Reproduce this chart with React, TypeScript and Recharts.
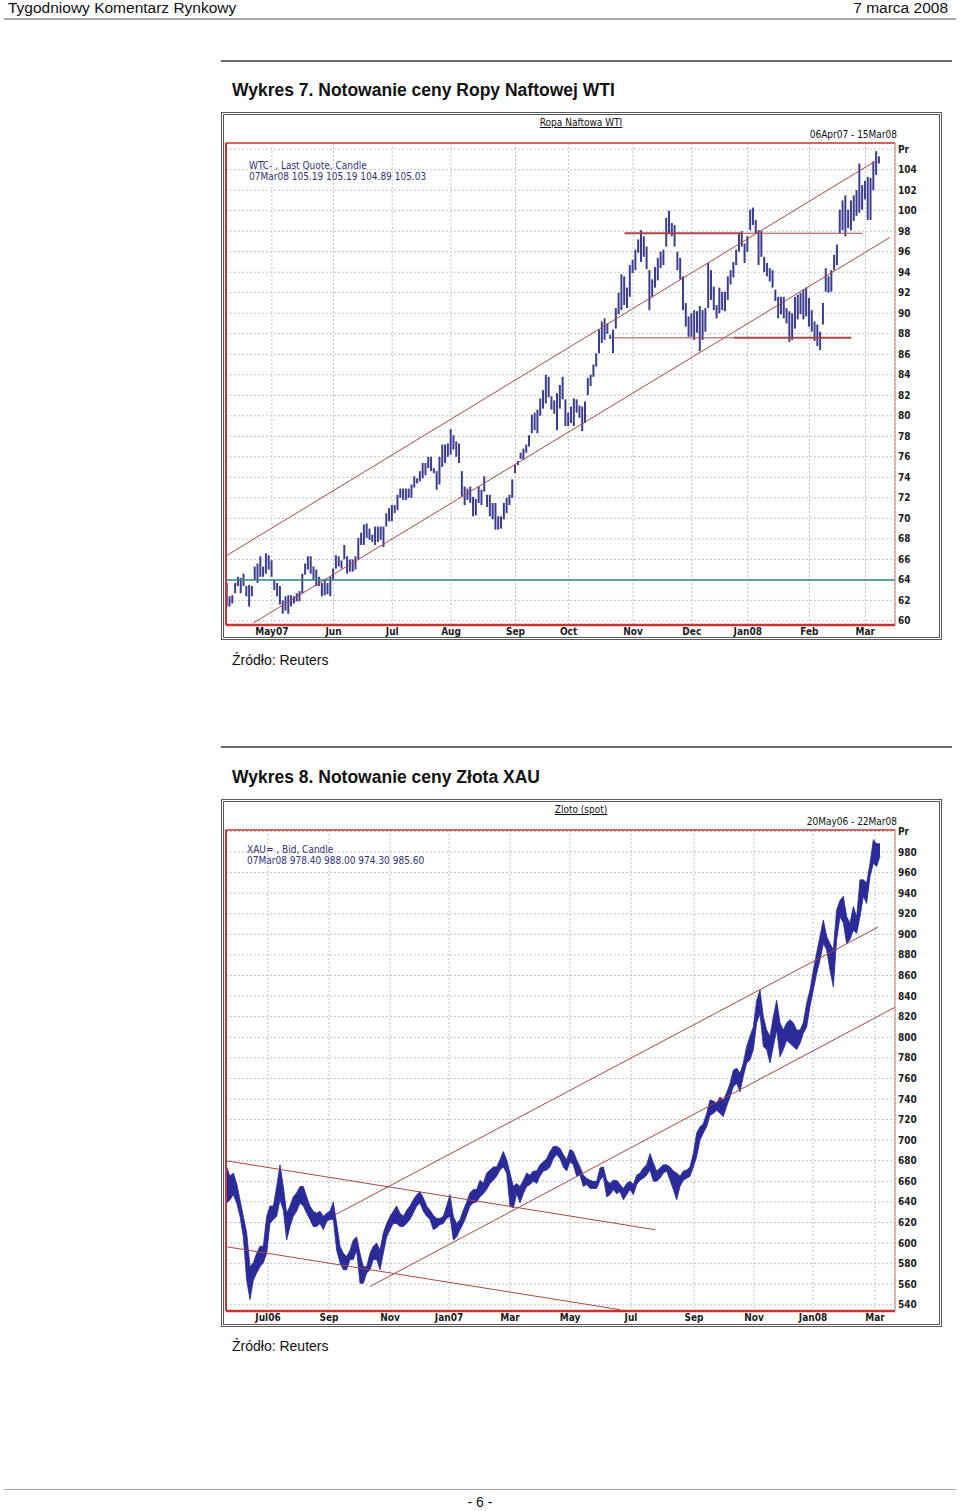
import React from 'react';
import { ComposedChart, Bar, Area, XAxis, YAxis, CartesianGrid, ReferenceLine } from 'recharts';

// Ropa WTI - dzienne świece (low / high), indeks = sesja od 9 kwietnia 2007
const wtiLow = [
  61.4, 61.4, 61.7, 62.7, 63.4, 62.7, 63.4, 62.4, 61.4, 62.4, 64.0, 63.7, 64.3, 64.3, 64.6, 65.0, 64.3, 63.0, 62.4, 61.6,
  60.7, 61.0, 60.7, 61.4, 61.7, 61.9, 61.9, 62.7, 64.5, 65.0, 64.6, 64.0, 63.4, 63.4, 62.4, 62.5, 62.6, 62.4, 64.0, 65.1,
  65.3, 65.1, 66.0, 64.6, 64.8, 64.8, 65.0, 66.0, 67.4, 67.4, 68.1, 67.9, 67.7, 67.4, 67.7, 67.9, 67.2, 69.2, 69.7, 69.7,
  70.5, 70.8, 72.0, 71.8, 71.8, 72.0, 72.0, 73.0, 73.4, 73.6, 73.9, 74.2, 74.9, 74.6, 74.4, 72.8, 73.3, 75.0, 75.4, 76.0,
  76.2, 76.7, 76.0, 75.4, 72.1, 71.3, 71.8, 71.5, 70.2, 70.3, 71.5, 71.3, 72.6, 71.1, 70.2, 69.9, 68.9, 68.9, 69.0, 69.9,
  70.5, 71.3, 72.0, 74.4, 75.2, 75.8, 75.7, 76.4, 77.0, 78.3, 78.6, 78.3, 80.0, 80.7, 81.2, 81.8, 80.6, 80.2, 78.6, 80.7,
  81.6, 79.0, 79.0, 79.3, 79.0, 80.3, 79.8, 78.5, 79.3, 82.0, 82.9, 83.8, 84.8, 86.1, 87.1, 87.4, 88.0, 87.5, 86.1, 88.5,
  89.9, 90.3, 90.8, 90.5, 91.6, 93.9, 94.2, 95.9, 95.0, 95.5, 94.3, 90.3, 91.6, 92.5, 93.2, 94.4, 94.7, 96.5, 97.8, 97.5,
  96.5, 94.2, 93.3, 90.3, 88.7, 87.7, 87.7, 87.4, 88.1, 86.3, 87.4, 88.2, 90.5, 91.3, 90.3, 89.5, 90.0, 90.3, 90.2, 91.3,
  92.8, 93.5, 94.7, 96.0, 96.5, 94.9, 96.0, 98.1, 98.6, 97.8, 94.7, 95.5, 94.0, 93.6, 93.1, 92.5, 91.2, 89.5, 89.9, 89.5,
  89.0, 87.2, 87.4, 88.5, 89.4, 89.9, 89.4, 89.7, 88.7, 88.2, 87.3, 86.8, 86.4, 88.9, 92.1, 92.0, 92.1, 94.2, 94.7, 97.8,
  98.1, 97.5, 98.3, 98.1, 99.0, 99.5, 99.8, 100.1, 101.1, 99.1, 99.1, 102.0, 103.5, 104.6,
];
const wtiHigh = [
  63.7, 62.4, 62.5, 63.7, 64.3, 64.2, 64.6, 63.4, 63.5, 63.4, 65.3, 65.6, 66.3, 65.3, 66.6, 66.4, 65.9, 64.0, 63.7, 63.4,
  62.0, 62.4, 62.5, 62.5, 62.4, 62.7, 62.9, 64.6, 65.6, 66.3, 66.3, 65.3, 65.0, 64.3, 63.7, 64.0, 63.7, 64.3, 65.1, 66.4,
  66.3, 65.9, 67.4, 66.3, 66.0, 66.0, 66.3, 68.1, 68.6, 69.4, 69.5, 69.0, 68.4, 69.2, 69.2, 69.2, 69.2, 70.5, 71.0, 71.3,
  71.3, 72.3, 72.9, 72.9, 72.9, 72.9, 73.3, 74.1, 73.9, 74.6, 75.4, 75.4, 76.0, 76.0, 74.9, 74.6, 76.0, 77.2, 77.2, 77.3,
  78.7, 78.1, 77.5, 77.3, 74.6, 73.1, 72.9, 73.1, 72.1, 71.9, 73.1, 72.8, 74.1, 72.3, 72.3, 71.5, 71.5, 70.2, 70.2, 71.5,
  72.0, 72.3, 73.8, 75.2, 75.6, 76.4, 76.8, 77.2, 78.1, 80.1, 80.3, 80.6, 81.7, 82.5, 84.0, 83.8, 81.9, 81.5, 82.2, 83.0,
  83.8, 81.6, 80.3, 80.9, 81.7, 81.6, 81.0, 80.9, 81.4, 83.7, 84.0, 85.0, 86.1, 88.4, 89.2, 89.5, 89.0, 87.9, 88.4, 90.5,
  92.0, 93.8, 93.6, 92.5, 94.7, 95.2, 96.2, 97.2, 98.1, 97.5, 96.5, 94.2, 93.3, 94.5, 95.4, 96.0, 96.2, 99.3, 100.0, 98.8,
  98.6, 96.0, 95.4, 93.6, 91.0, 89.7, 90.0, 90.3, 90.2, 90.7, 90.3, 90.5, 94.9, 94.2, 92.6, 90.8, 92.5, 92.1, 92.1, 93.6,
  94.2, 95.0, 96.2, 97.8, 98.0, 96.8, 97.5, 100.1, 100.3, 99.1, 98.1, 98.0, 95.5, 94.9, 94.4, 94.2, 92.3, 91.6, 91.6, 91.6,
  90.5, 90.2, 90.0, 91.6, 91.8, 92.0, 92.3, 92.5, 91.5, 90.3, 89.2, 88.9, 88.2, 91.0, 94.4, 93.6, 94.2, 95.7, 96.7, 100.1,
  101.0, 101.5, 100.1, 101.0, 101.5, 102.0, 104.6, 102.5, 102.9, 103.3, 103.2, 104.8, 105.8, 105.3,
];
const wtiMonthPos = [16, 38, 59, 80, 103, 122, 145, 166, 186, 208, 228];
const wtiMonthLabels = ['May07', 'Jun', 'Jul', 'Aug', 'Sep', 'Oct', 'Nov', 'Dec', 'Jan08', 'Feb', 'Mar'];
const wtiPriceTicks = [60, 62, 64, 66, 68, 70, 72, 74, 76, 78, 80, 82, 84, 86, 88, 90, 92, 94, 96, 98, 100, 102, 104, 106];
const wtiTrend = [
  { from: { x: 0, y: 66.4 }, to: { x: 231.4, y: 104.8 }, w: 1 },
  { from: { x: 9.4, y: 59.8 }, to: { x: 236.8, y: 97.4 }, w: 1 },
  { from: { x: 142, y: 97.8 }, to: { x: 184, y: 97.8 }, w: 2 },
  { from: { x: 184, y: 97.8 }, to: { x: 227, y: 97.8 }, w: 1 },
  { from: { x: 138, y: 87.6 }, to: { x: 181, y: 87.6 }, w: 1 },
  { from: { x: 181, y: 87.6 }, to: { x: 223, y: 87.6 }, w: 2 },
];

// Złoto XAU - zakres low / high co ok. 2 sesje od końca maja 2006
const goldLow = [
  639, 642, 647, 639, 626, 606, 564, 545, 564, 571, 577, 581, 590, 619, 623, 626, 642, 632, 603, 616,
  626, 631, 639, 636, 629, 623, 616, 616, 619, 613, 621, 623, 623, 593, 581, 574, 574, 584, 584, 593,
  561, 561, 571, 574, 584, 584, 574, 590, 606, 613, 619, 619, 616, 616, 619, 623, 629, 636, 639, 631,
  626, 623, 613, 615, 618, 619, 624, 626, 603, 606, 613, 619, 627, 636, 639, 640, 645, 648, 652, 658,
  661, 665, 671, 674, 668, 636, 634, 648, 639, 648, 655, 657, 660, 658, 665, 670, 671, 674, 682, 686,
  682, 674, 670, 679, 676, 665, 666, 655, 657, 653, 653, 653, 661, 665, 645, 647, 652, 648, 650, 642,
  647, 652, 647, 657, 661, 663, 666, 671, 660, 660, 663, 668, 670, 661, 652, 642, 655, 661, 663, 665,
  674, 684, 700, 707, 713, 724, 726, 729, 726, 723, 733, 742, 752, 755, 747, 762, 775, 778, 788, 814,
  823, 791, 788, 775, 791, 807, 781, 788, 797, 794, 791, 788, 794, 804, 810, 830, 846, 862, 875, 891,
  885, 865, 849, 895, 917, 911, 891, 895, 904, 901, 917, 937, 930, 956, 969, 966, 976,
];
const goldHigh = [
  674, 665, 668, 658, 642, 626, 610, 577, 581, 590, 597, 597, 626, 636, 636, 655, 676, 655, 629, 636,
  645, 649, 655, 655, 645, 636, 631, 629, 631, 626, 629, 631, 640, 619, 597, 590, 587, 593, 603, 606,
  590, 577, 577, 590, 597, 600, 593, 610, 619, 626, 631, 636, 629, 626, 632, 636, 642, 647, 650, 644,
  636, 632, 627, 624, 624, 626, 636, 647, 626, 619, 623, 632, 640, 649, 652, 652, 661, 658, 668, 671,
  674, 674, 681, 689, 681, 668, 655, 658, 655, 661, 668, 666, 670, 670, 676, 679, 682, 689, 694, 694,
  692, 686, 681, 691, 689, 681, 674, 666, 663, 661, 660, 660, 673, 674, 661, 658, 661, 661, 657, 653,
  658, 660, 657, 666, 668, 673, 676, 687, 678, 670, 673, 676, 676, 674, 670, 668, 665, 670, 671, 674,
  687, 707, 713, 716, 726, 739, 738, 736, 742, 739, 746, 755, 768, 770, 765, 775, 791, 801, 810, 836,
  846, 820, 807, 801, 820, 836, 814, 807, 814, 817, 814, 807, 807, 814, 833, 846, 865, 882, 898, 914,
  898, 891, 885, 924, 933, 937, 917, 911, 927, 917, 953, 953, 950, 969, 992, 988, 988,
];
const goldMonthPos = [12.4, 30.7, 49, 66.7, 85, 103, 121.3, 140.2, 158.2, 175.9, 194.5];
const goldMonthLabels = ['Jul06', 'Sep', 'Nov', 'Jan07', 'Mar', 'May', 'Jul', 'Sep', 'Nov', 'Jan08', 'Mar'];
const goldPriceTicks = [540, 560, 580, 600, 620, 640, 660, 680, 700, 720, 740, 760, 780, 800, 820, 840, 860, 880, 900, 920, 940, 960, 980, 1000];
const goldTrend = [
  { from: { x: -0.2, y: 680 }, to: { x: 128.5, y: 613 }, w: 1 },
  { from: { x: -0.2, y: 596.5 }, to: { x: 118, y: 535.3 }, w: 1 },
  { from: { x: 32.5, y: 627.4 }, to: { x: 195.4, y: 907 }, w: 1 },
  { from: { x: 43, y: 557.8 }, to: { x: 200.4, y: 829 }, w: 1 },
];

const NARROW = "'Liberation Sans Narrow', 'Arial Narrow', 'DejaVu Sans Condensed', sans-serif";
const RED = '#c83434';
const TREND = '#a84848';

type Seg = { from: { x: number; y: number }; to: { x: number; y: number }; w: number };

type PanelProps = {
  title: string;
  period: string;
  legend1: string;
  legend2: string;
  legendLeft: number;
  legendTop: number;
  rows: { day: number; range: number[] }[];
  xDomain: [number, number];
  yDomain: [number, number];
  monthPos: number[];
  monthLabels: string[];
  priceTicks: number[];
  color: string;
  band?: boolean;
  trend: Seg[];
  axisHeight: number;
  flat?: number;
};

function Txt({ x, cy, size, children, style }: { x?: number; cy: number; size: number; children: React.ReactNode; style?: React.CSSProperties }) {
  return (
    <div style={{ position: 'absolute', left: x, top: cy - size * 0.6, fontSize: size, lineHeight: `${size * 1.2}px`, whiteSpace: 'nowrap', ...style }}>
      {children}
    </div>
  );
}

function ReutersPanel(p: PanelProps) {
  const top = p.priceTicks[p.priceTicks.length - 1];
  return (
    <div style={{ position: 'relative', width: 715, height: 522 }}>
      <ComposedChart width={715} height={522} data={p.rows} margin={{ top: 28, right: 0, bottom: 0, left: 2 }}>
        <CartesianGrid stroke="#c2c2c2" strokeDasharray="2 2" />
        <XAxis
          dataKey="day"
          type="number"
          domain={p.xDomain}
          allowDataOverflow
          ticks={p.monthPos}
          interval={0}
          tickFormatter={(v) => p.monthLabels[p.monthPos.indexOf(v)] ?? ''}
          height={p.axisHeight}
          tickSize={0}
          tickMargin={3}
          axisLine={{ stroke: RED, strokeWidth: 2.5 }}
          tick={{ fontSize: 10, fontWeight: 700, fill: '#1c1c1c', fontFamily: NARROW }}
        />
        <YAxis
          orientation="right"
          type="number"
          domain={p.yDomain}
          allowDataOverflow
          ticks={p.priceTicks}
          interval={0}
          tickFormatter={(v) => (v === top ? 'Pr' : String(v))}
          width={44}
          tickSize={0}
          tickMargin={3}
          axisLine={{ stroke: '#c87c7c', strokeWidth: 1 }}
          tick={{ fontSize: 10, fontWeight: 700, fill: '#1c1c1c', fontFamily: NARROW }}
        />
        <ReferenceLine y={p.yDomain[1]} stroke={RED} strokeWidth={1.5} ifOverflow="visible" />
        <ReferenceLine x={p.xDomain[0]} stroke={RED} strokeWidth={2} ifOverflow="visible" />
        {p.flat !== undefined && <ReferenceLine y={p.flat} stroke="#2a8a8a" strokeWidth={1.5} />}
        {p.band ? (
          <Area
            dataKey="range"
            type="linear"
            stroke={p.color}
            strokeWidth={0.8}
            fill={p.color}
            fillOpacity={1}
            dot={false}
            activeDot={false}
            isAnimationActive={false}
          />
        ) : (
          <Bar dataKey="range" fill={p.color} barSize={2} isAnimationActive={false} />
        )}
        {p.trend.map((s, k) => (
          <ReferenceLine key={k} segment={[s.from, s.to]} stroke={TREND} strokeWidth={s.w} ifOverflow="visible" />
        ))}
      </ComposedChart>
      <Txt x={0} cy={8} size={10} style={{ width: 714, textAlign: 'center', fontFamily: NARROW, textDecoration: 'underline', color: '#111' }}>
        {p.title}
      </Txt>
      <Txt cy={20} size={10} style={{ right: 42, fontFamily: NARROW, color: '#111' }}>
        {p.period}
      </Txt>
      <Txt x={p.legendLeft} cy={p.legendTop} size={10} style={{ fontFamily: NARROW, color: '#33337a' }}>
        {p.legend1}
      </Txt>
      <Txt x={p.legendLeft} cy={p.legendTop + 11} size={10} style={{ fontFamily: NARROW, color: '#33337a' }}>
        {p.legend2}
      </Txt>
    </div>
  );
}

const frame: React.CSSProperties = {
  position: 'absolute',
  left: 221,
  width: 721,
  height: 528,
  boxSizing: 'border-box',
  border: '3px double #5a5a5a',
  background: '#fff',
};

export default function App() {
  const wtiRows = wtiLow.map((lo, i) => ({ day: i, range: [lo, wtiHigh[i]] }));
  const goldRows = goldLow.map((lo, j) => ({ day: j, range: [lo, goldHigh[j]] }));

  return (
    <div style={{ position: 'absolute', left: 0, top: 0, width: 960, height: 1511, background: '#fff', fontFamily: "'Liberation Sans', Arial, sans-serif", color: '#111' }}>
      <Txt x={8} cy={8} size={15.5}>Tygodniowy Komentarz Rynkowy</Txt>
      <Txt cy={8} size={15.5} style={{ right: 12 }}>7 marca 2008</Txt>
      <div style={{ position: 'absolute', left: 4, top: 18, width: 952, height: 2, background: '#a8a8a8' }} />

      <div style={{ position: 'absolute', left: 221, top: 60, width: 731, height: 2, background: '#6a6a6a' }} />
      <Txt x={232} cy={90} size={17.5} style={{ fontWeight: 700 }}>Wykres 7. Notowanie ceny Ropy Naftowej WTI</Txt>
      <div style={{ ...frame, top: 112 }}>
        <ReutersPanel
          title="Ropa Naftowa WTI"
          period="06Apr07 - 15Mar08"
          legend1="WTC- , Last Quote, Candle"
          legend2="07Mar08 105.19 105.19 104.89 105.03"
          legendLeft={25}
          legendTop={51}
          rows={wtiRows}
          xDomain={[-0.4, 238.6]}
          yDomain={[59.6, 106.6]}
          monthPos={wtiMonthPos}
          monthLabels={wtiMonthLabels}
          priceTicks={wtiPriceTicks}
          color="#3d3d90"
          trend={wtiTrend}
          axisHeight={12}
          flat={64}
        />
      </div>
      <Txt x={232} cy={660} size={14}>Źródło: Reuters</Txt>

      <div style={{ position: 'absolute', left: 221, top: 746, width: 731, height: 2, background: '#6a6a6a' }} />
      <Txt x={232} cy={777} size={17.5} style={{ fontWeight: 700 }}>Wykres 8. Notowanie ceny Złota XAU</Txt>
      <div style={{ ...frame, top: 799 }}>
        <ReutersPanel
          title="Zloto (spot)"
          period="20May06 - 22Mar08"
          legend1="XAU= , Bid, Candle"
          legend2="07Mar08 978.40 988.00 974.30 985.60"
          legendLeft={23}
          legendTop={48}
          rows={goldRows}
          xDomain={[-0.2, 200.5]}
          yDomain={[534, 1001.4]}
          monthPos={goldMonthPos}
          monthLabels={goldMonthLabels}
          priceTicks={goldPriceTicks}
          color="#2a2a98"
          band
          trend={goldTrend}
          axisHeight={13}
        />
      </div>
      <Txt x={232} cy={1346} size={14}>Źródło: Reuters</Txt>

      <div style={{ position: 'absolute', left: 4, top: 1489, width: 952, height: 1, background: '#a8a8a8' }} />
      <Txt x={0} cy={1502} size={14} style={{ width: 960, textAlign: 'center' }}>- 6 -</Txt>
    </div>
  );
}
